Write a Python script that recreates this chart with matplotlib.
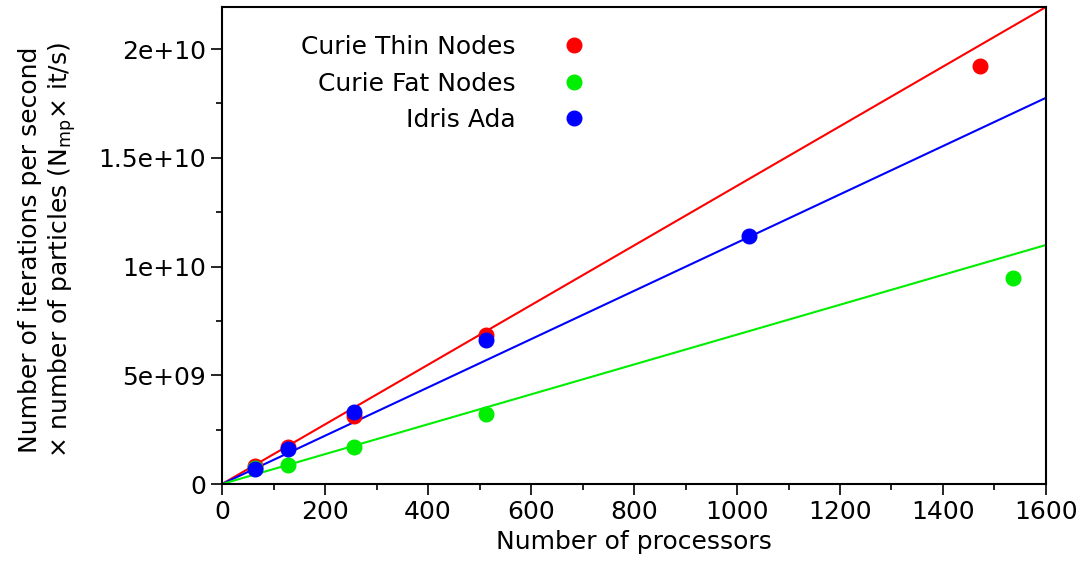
import numpy as np
import matplotlib
matplotlib.use('Agg')
import matplotlib.pyplot as plt

# measured points
thin_procs = [64, 128, 256, 512, 1472]
thin_rate = [0.85e9, 1.70e9, 3.12e9, 6.85e9, 1.922e10]
fat_procs = [64, 128, 256, 512, 1536]
fat_rate = [0.75e9, 0.88e9, 1.72e9, 3.20e9, 9.47e9]
ada_procs = [64, 128, 256, 512, 1024]
ada_rate = [0.70e9, 1.62e9, 3.32e9, 6.60e9, 1.142e10]

# slopes of the linear fits (it/s per processor)
thin_slope = 1.371e7
fat_slope = 6.87e6
ada_slope = 1.11e7

names = ['Curie Thin Nodes', 'Curie Fat Nodes', 'Idris Ada']
colors = ['#ff0000', '#00ee00', '#0000ff']
fs = 18

plt.rcParams['font.family'] = ['DejaVu Sans']
fig = plt.figure(figsize=(10.8, 5.63), dpi=100)
ax = fig.add_axes([0.2056, 0.1403, 0.7629, 0.8473])

xfit = np.array([0, 1600])
for slope, c in zip([thin_slope, ada_slope, fat_slope], [colors[0], colors[2], colors[1]]):
    ax.plot(xfit, slope * xfit, color=c, lw=1.5, zorder=2)

for px, py, c, n in zip([thin_procs, fat_procs, ada_procs], [thin_rate, fat_rate, ada_rate], colors, names):
    ax.plot(px, py, 'o', color=c, ms=10.5, label=n, zorder=3, linestyle='none')

ax.set_xlim(0, 1600)
ax.set_ylim(0, thin_slope * 1600)
ax.set_xticks(range(0, 1601, 200))
ax.set_xticks(range(0, 1601, 100), minor=True)
ax.set_yticks([0, 5e9, 1e10, 1.5e10, 2e10])
ax.set_yticklabels(['0', '5e+09', '1e+10', '1.5e+10', '2e+10'])
ax.set_yticks(np.arange(0, 2.2e10, 2.5e9), minor=True)
ax.tick_params(which='both', direction='out', top=False, right=False, labelsize=fs, width=1.2)
ax.tick_params(which='major', length=8)
ax.tick_params(which='minor', length=4)
for s in ax.spines.values():
    s.set_linewidth(1.5)

ax.set_xlabel('Number of processors', fontsize=fs, labelpad=4)
ax.set_ylabel('Number of iterations per second\n× number of particles (N$_{\\mathrm{mp}}$× it/s)',
              fontsize=fs)
ax.yaxis.set_label_coords(-0.175, 0.49)

ax.legend(loc='upper right', bbox_to_anchor=(0.47, 0.962), frameon=False, markerfirst=False,
          fontsize=fs, handletextpad=1.35, labelspacing=0.5, borderaxespad=0)

fig.savefig('out.png', dpi=100)
